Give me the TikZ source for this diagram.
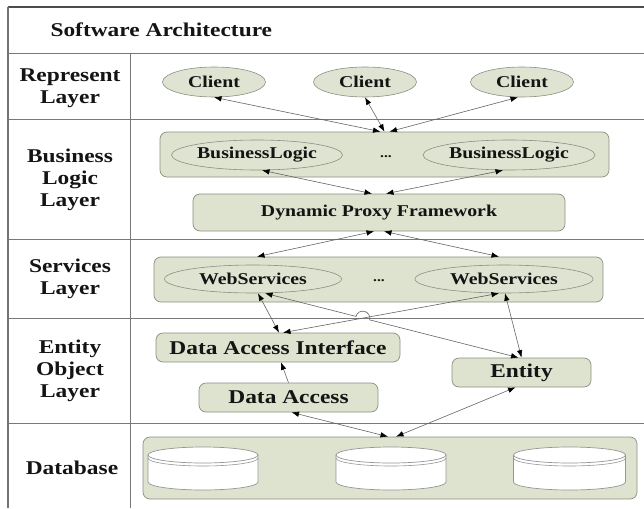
\documentclass[tikz,border=0pt]{standalone}
\usepackage{fontspec}
\setmainfont{Liberation Serif}[FakeStretch=1.2]
\usetikzlibrary{shapes.geometric,arrows.meta,calc,intersections}
\definecolor{sage}{RGB}{221,227,206}
\definecolor{sageel}{RGB}{223,228,210}
\definecolor{edgegray}{RGB}{140,142,130}
\definecolor{linegray}{RGB}{100,100,100}
\definecolor{rulegray}{RGB}{120,120,120}
\definecolor{cylgray}{RGB}{150,150,150}
\definecolor{ink}{RGB}{20,20,20}
\begin{document}
\begin{tikzpicture}[x=1pt,y=-1pt,
  big/.style={font=\fontsize{19.5}{22}\selectfont\bfseries, text=ink},
  small/.style={font=\fontsize{16.5}{18}\selectfont\bfseries, text=ink},
  dots/.style={font=\fontsize{13}{15}\selectfont\bfseries, text=ink},
  box/.style={draw=edgegray, fill=sage, rounded corners=7pt, line width=0.7pt, inner sep=0pt},
  oval/.style={ellipse, draw=edgegray, fill=sageel, line width=0.6pt, inner sep=0pt},
  >={Latex[length=7.5pt,width=5.5pt,color=black]},
  conn/.style={draw=linegray, line width=0.6pt, <->},
  oneway/.style={draw=linegray, line width=0.6pt, ->},
  rule/.style={draw=rulegray, line width=0.8pt},
  cyl/.style={draw=cylgray, line width=0.7pt, fill=white},
]
\useasboundingbox (0,0) rectangle (644,508);
\clip (0,0) rectangle (644,508);
% frame
\draw[draw=black!70, line width=1.8pt] (8,7) -- (644,7);
\draw[draw=black!55, line width=1.2pt] (8,7) -- (8,508);
\foreach \yy in {53,119,239,318,423} \draw[rule] (8,\yy) -- (644,\yy);
\draw[rule] (130,53) -- (130,508);
% labels
\node[big, anchor=west] (title) at (47,30) {Software Architecture};
\node[big, align=center] (lrep) at (70,88) {Represent\\Layer};
\node[big, align=center] (lbiz) at (70,180) {Business\\Logic\\Layer};
\node[big, align=center] (lsvc) at (70,279) {Services\\Layer};
\node[big, align=center] (lent) at (70,371) {Entity\\Object\\Layer};
\node[big] (ldb) at (72,468) {Database};
% represent layer
\node[oval, small, minimum width=103pt, minimum height=30pt] (c1) at (214,82) {Client};
\node[oval, small, minimum width=103pt, minimum height=30pt] (c2) at (365,82) {Client};
\node[oval, small, minimum width=103pt, minimum height=30pt] (c3) at (522,82) {Client};
% business logic layer
\node[box, minimum width=449pt, minimum height=45pt] (biz) at (384.5,154.5) {};
\node[oval, small, minimum width=171pt, minimum height=30pt] (bl1) at (257,155) {BusinessLogic};
\node[oval, small, minimum width=172pt, minimum height=30pt] (bl2) at (509,155) {BusinessLogic};
\node[dots] (bdots) at (386,157) {...};
\node[box, small, minimum width=372pt, minimum height=37pt] (dpf) at (379,212.5) {Dynamic Proxy Framework};
% services layer
\node[box, minimum width=449pt, minimum height=45pt] (svc) at (378.5,279.5) {};
\node[oval, small, minimum width=177pt, minimum height=28pt] (ws1) at (253,279) {WebServices};
\node[oval, small, minimum width=178pt, minimum height=28pt] (ws2) at (504,279) {WebServices};
\node[dots] (sdots) at (379,281) {...};
% entity object layer
\node[box, big, minimum width=244pt, minimum height=29pt] (dai) at (278,347.5) {Data Access Interface};
\node[box, big, minimum width=139pt, minimum height=29pt] (ent) at (521.5,372.5) {Entity};
\node[box, big, minimum width=179pt, minimum height=29pt] (da) at (288.5,397.5) {Data Access};
% database
\node[box, minimum width=494pt, minimum height=62pt] (db) at (390,468) {};
\foreach \cx/\rx in {203/55, 391/55, 569.5/56}{
  \draw[cyl] ({\cx-\rx},455) -- ({\cx-\rx},482) arc[start angle=180, end angle=0, x radius=\rx, y radius=8] -- ({\cx+\rx},455);
  \draw[cyl] (\cx,455) ellipse[x radius=\rx, y radius=8];
  \draw[draw=cylgray, line width=0.6pt] ({\cx-\rx},458) arc[start angle=180, end angle=0, x radius=\rx, y radius=8];
}
% connectors
\draw[conn] (c1.south) -- ([xshift=-4pt]biz.north);
\draw[conn] (c2.south) -- (biz.north);
\draw[conn] ([xshift=-4pt]c3.south) -- ([xshift=5pt]biz.north);
\draw[conn] ([xshift=5pt]bl1.south) -- ([xshift=-7pt]dpf.north);
\draw[conn] ([xshift=-6pt]bl2.south) -- ([xshift=7pt]dpf.north);
\draw[conn] ([xshift=-5pt]dpf.south) -- ($(ws1.north |- svc.north)+(4,0)$);
\draw[conn] ([xshift=5pt]dpf.south) -- ($(ws2.north |- svc.north)+(-5,0)$);
\draw[conn] ([xshift=5pt]ws1.south) -- ([xshift=1pt]dai.north);
\draw[conn, name path=lnine] ([xshift=5pt]dai.north) -- ([xshift=-5pt]ws2.south);
\coordinate (wa) at ([xshift=12pt]ws1.south);
\coordinate (eb) at ([xshift=-3pt]ent.north);
\path[name path=lten] (wa) -- (eb);
\path[name intersections={of=lnine and lten, by=hx}];
\draw[conn] let \p1=($(eb)-(wa)$), \n1={atan2(\y1,\x1)} in
  (wa) -- ($(hx)!7pt!(wa)$) arc[start angle={180-\n1}, end angle={360-\n1}, radius=7] -- (eb);
\draw[conn] ([xshift=1pt]ws2.south) -- (ent.north);
\draw[oneway] (da.north) -- ([xshift=3pt]dai.south);
\draw[conn] ([xshift=3pt]da.south) -- ([xshift=-2pt]db.north);
\draw[conn] ([xshift=-6pt]ent.south) -- ([xshift=6pt]db.north);
\end{tikzpicture}
\end{document}
